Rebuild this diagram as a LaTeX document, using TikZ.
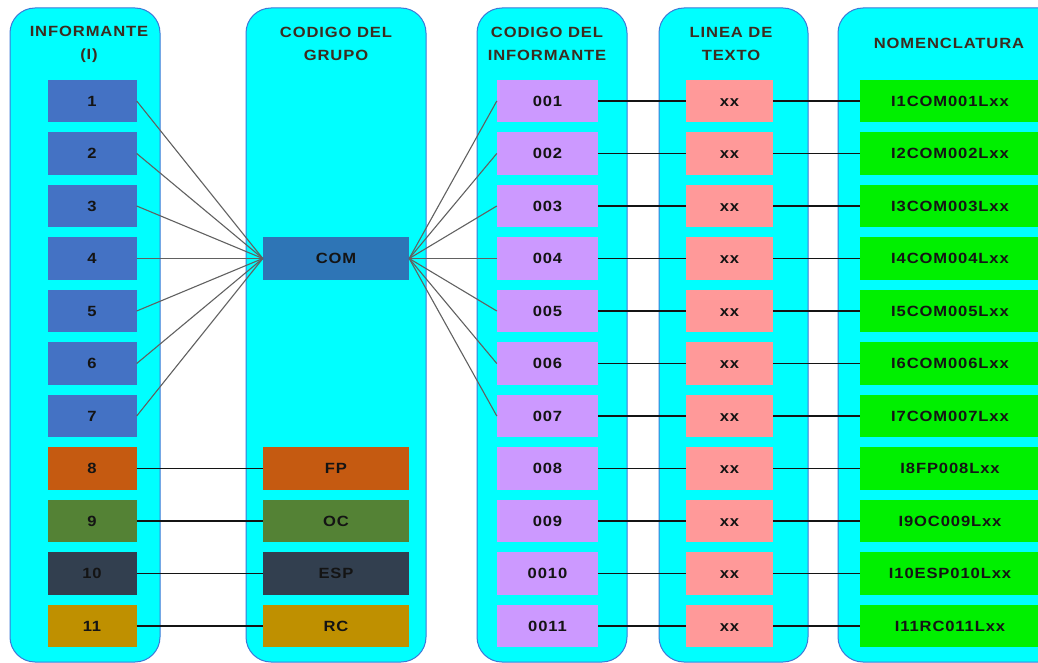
\documentclass[tikz,border=0pt]{standalone}
\usepackage{fontspec}
\newfontfamily\bx[FakeStretch=1.12,LetterSpace=6]{Liberation Sans}
\definecolor{panelfill}{HTML}{00FFFF}
\definecolor{paneldraw}{HTML}{3C78D8}
\definecolor{infblue}{HTML}{4472C4}
\definecolor{comblue}{HTML}{2E75B6}
\definecolor{orng}{HTML}{C55A11}
\definecolor{olive}{HTML}{548235}
\definecolor{slate}{HTML}{323F4F}
\definecolor{gold}{HTML}{BF9000}
\definecolor{lilac}{HTML}{CC99FF}
\definecolor{salmon}{HTML}{FF9999}
\definecolor{lime}{HTML}{00F000}
\definecolor{hdrtext}{HTML}{3D2B1F}
\definecolor{boxtext}{HTML}{141414}
\begin{document}
\begin{tikzpicture}[x=1pt,y=-1pt,
  panel/.style={fill=panelfill,draw=paneldraw,line width=1pt,rounded corners=25pt},
  hdr/.style={text=hdrtext,align=center,font={\bx\bfseries\fontsize{14.8}{23}\selectfont}},
  cell/.style={rectangle,inner sep=0pt,minimum height=42.5pt,text height=10.6pt,text depth=0pt,text=boxtext,font={\bx\bfseries\fontsize{14.8}{16}\selectfont}},
  infbox/.style={cell,minimum width=89pt},
  grpbox/.style={cell,minimum width=146pt},
  codbox/.style={cell,minimum width=101pt,fill=lilac},
  linbox/.style={cell,minimum width=87pt,fill=salmon},
  nombox/.style={cell,minimum width=190pt,fill=lime},
  fan/.style={draw=black!62,line width=1.1pt},
  link/.style={draw=black!92,line width=1.2pt}]
\useasboundingbox (0,0) rectangle (1038,663);
\clip (0,0) rectangle (1038,663);
\fill[white] (0,0) rectangle (1038,663);
% panels
\draw[panel] (10,8) rectangle (160,662);
\draw[panel] (246,8) rectangle (426,662);
\draw[panel] (477,8) rectangle (627,662);
\draw[panel] (659,8) rectangle (808,662);
\draw[panel] (838,8) rectangle (1075,662);
% headers
\node[hdr] (h1) at (89,44) {INFORMANTE\\(I)};
\node[hdr] (h2) at (336,44) {CODIGO DEL\\GRUPO};
\node[hdr] (h3) at (547,44) {CODIGO DEL\\INFORMANTE};
\node[hdr] (h4) at (731,44) {LINEA DE\\TEXTO};
\node[hdr] (h5) at (949,43) {NOMENCLATURA};
% informant boxes
\foreach \i/\c in {1/infblue,2/infblue,3/infblue,4/infblue,5/infblue,6/infblue,7/infblue,8/orng,9/olive,10/slate,11/gold}{
  \pgfmathsetmacro\yy{101+(\i-1)*52.5}
  \node[infbox,fill=\c] (i\i) at (92,\yy) {\i};
}
% group boxes
\node[grpbox,fill=comblue] (com) at (336,258.5) {COM};
\node[grpbox,fill=orng] (fp) at (336,468.5) {FP};
\node[grpbox,fill=olive] (oc) at (336,521) {OC};
\node[grpbox,fill=slate] (esp) at (336,573.5) {ESP};
\node[grpbox,fill=gold] (rc) at (336,626) {RC};
% code and text-line boxes
\foreach \i/\t in {1/001,2/002,3/003,4/004,5/005,6/006,7/007,8/008,9/009,10/0010,11/0011}{
  \pgfmathsetmacro\yy{101+(\i-1)*52.5}
  \node[codbox] (c\i) at (547.5,\yy) {\t};
  \node[linbox] (l\i) at (729.5,\yy) {xx};
}
% nomenclature boxes
\foreach \i/\t in {1/I1COM001Lxx,2/I2COM002Lxx,3/I3COM003Lxx,4/I4COM004Lxx,5/I5COM005Lxx,6/I6COM006Lxx,7/I7COM007Lxx,8/I8FP008Lxx,9/I9OC009Lxx,10/I10ESP010Lxx,11/I11RC011Lxx}{
  \pgfmathsetmacro\yy{101+(\i-1)*52.5}
  \node[nombox] (n\i) at (955,\yy) {\hspace*{-10pt}\t};
}
% connectors
\foreach \i in {1,...,7}{
  \draw[fan] (i\i.east) -- (com.west);
  \draw[fan] (com.east) -- (c\i.west);
}
\draw[link] (i8.east) -- (fp.west);
\draw[link] (i9.east) -- (oc.west);
\draw[link] (i10.east) -- (esp.west);
\draw[link] (i11.east) -- (rc.west);
\foreach \i in {1,...,11}{
  \draw[link] (c\i.east) -- (l\i.west);
  \draw[link] (l\i.east) -- (n\i.west);
}
\end{tikzpicture}
\end{document}
